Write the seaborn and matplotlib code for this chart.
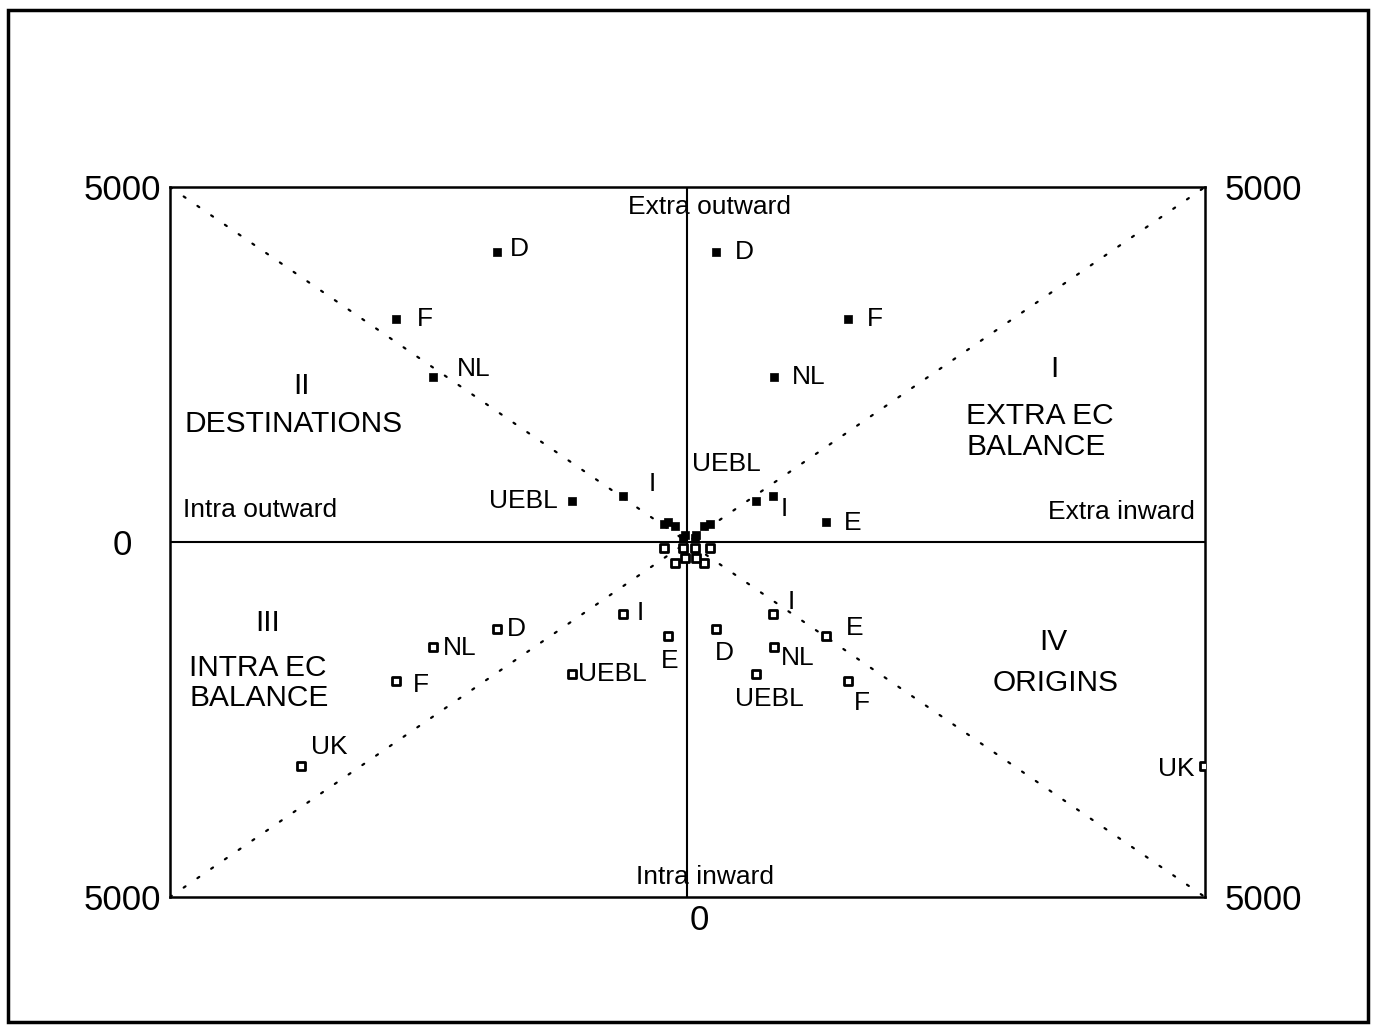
import numpy as np
import pandas as pd
import seaborn as sns
import matplotlib.pyplot as plt
from matplotlib.patches import Rectangle
from matplotlib.transforms import ScaledTranslation

# trade flows per country (same value shared by the two quadrants that use it)
countries = ["D", "F", "NL", "UEBL", "I", "E", "UK", "DK", "IRL", "GR", "P"]
intra_out = [1840, 2815, 2460, 1115, 618, 184, 3729, 222, 116, 20, 40]
extra_out = [4083, 3147, 2323, 584, 648, 282, np.nan, 260, 230, 100, 60]
extra_in = [275, 1550, 835, 667, 826, 1338, 4994, 222, 164, 80, 70]
intra_in = [1225, 1957, 1478, 1858, 1014, 1323, 3154, 84, 296, 230, 90]
labelled = ["D", "F", "NL", "UEBL", "I", "E", "UK"]

rows = []
for i, c in enumerate(countries):
    rows.append(dict(country=c, quad="UL", x=-intra_out[i], y=extra_out[i]))
    rows.append(dict(country=c, quad="UR", x=extra_in[i], y=extra_out[i]))
    rows.append(dict(country=c, quad="LL", x=-intra_out[i], y=-intra_in[i]))
    rows.append(dict(country=c, quad="LR", x=extra_in[i], y=-intra_in[i]))
df = pd.DataFrame(rows).dropna()
upper = df[df["quad"].isin(["UL", "UR"])]
lower = df[df["quad"].isin(["LL", "LR"])]

# label offsets in points: (dx, dy, ha)
offsets = {
    ("UL", "D"): (9, 2, "left"), ("UL", "F"): (15, 0, "left"),
    ("UL", "NL"): (17, 6, "left"), ("UL", "UEBL"): (-10, 0, "right"),
    ("UL", "I"): (21, 9, "center"),
    ("UR", "D"): (14, 0, "left"), ("UR", "F"): (14, 0, "left"),
    ("UR", "NL"): (13, 0, "left"), ("UR", "UEBL"): (-22, 26, "center"),
    ("UR", "I"): (8, -9, "center"), ("UR", "E"): (13, -1, "left"),
    ("LL", "D"): (7, 0, "left"), ("LL", "NL"): (7, -1, "left"),
    ("LL", "F"): (12, -3, "left"), ("LL", "UEBL"): (4, 0, "left"),
    ("LL", "I"): (12, 1, "center"), ("LL", "E"): (1, -18, "center"),
    ("LL", "UK"): (7, 14, "left"),
    ("LR", "I"): (13, 9, "center"), ("LR", "E"): (14, 6, "left"),
    ("LR", "D"): (6, -17, "center"), ("LR", "NL"): (5, -8, "left"),
    ("LR", "UEBL"): (9, -18, "center"), ("LR", "F"): (10, -16, "center"),
    ("LR", "UK"): (-7, -2, "right"),
}

sns.set_theme(style="white")
plt.rcParams["font.family"] = ["Liberation Sans", "DejaVu Sans"]
plt.rcParams["text.color"] = "black"
plt.rcParams["xtick.color"] = "black"
plt.rcParams["ytick.color"] = "black"

fig = plt.figure(figsize=(13.76, 10.30), dpi=100)
ax = fig.add_axes([0.1235, 0.1291, 0.7522, 0.6893])

lim = 5000
ax.plot([-lim, lim], [lim, -lim], color="black", lw=1.6, ls=(0, (1, 6.5)), dash_capstyle="round")
ax.plot([-lim, lim], [-lim, lim], color="black", lw=1.6, ls=(0, (1, 6.5)), dash_capstyle="round")
ax.axhline(0, color="black", lw=1.5)
ax.axvline(0, color="black", lw=1.5)

sns.scatterplot(data=upper, x="x", y="y", marker="s", color="black", s=36,
                edgecolor="black", linewidth=0.5, ax=ax, zorder=5)
sns.scatterplot(data=lower, x="x", y="y", marker="s", color="white", s=40,
                edgecolor="black", linewidth=2.0, ax=ax, zorder=5)

for _, r in df.iterrows():
    key = (r["quad"], r["country"])
    if r["country"] in labelled and key in offsets:
        dx, dy, ha = offsets[key]
        ax.annotate(r["country"], (r["x"], r["y"]), xytext=(dx, dy),
                    textcoords="offset points", ha=ha, va="center", fontsize=19)

axis_words = [("Intra outward", -4134, 450), ("Extra outward", 212, 4717),
              ("Extra inward", 4193, 422), ("Intra inward", 174, -4717)]
for t, x, y in axis_words:
    ax.text(x, y, t, ha="center", va="center", fontsize=19)

big = 21.5
ax.text(-3729, 2196, "II", ha="center", va="center", fontsize=big)
ax.text(-3806, 1661, "DESTINATIONS", ha="center", va="center", fontsize=big)
ax.text(3545, 2436, "I", ha="center", va="center", fontsize=big)
ax.text(2695, 1556, "EXTRA EC\nBALANCE", ha="left", va="center", fontsize=big, linespacing=1.1)
ax.text(-4057, -1140, "III", ha="center", va="center", fontsize=big)
ax.text(-4811, -1985, "INTRA EC\nBALANCE", ha="left", va="center", fontsize=big, linespacing=1.1)
ax.text(3535, -1408, "IV", ha="center", va="center", fontsize=big)
ax.text(3555, -1985, "ORIGINS", ha="center", va="center", fontsize=big)

ax.set_xlim(-lim, lim)
ax.set_ylim(-lim, lim)
ax.set_xlabel("")
ax.set_ylabel("")
for sp in ax.spines.values():
    sp.set_visible(True)
    sp.set_color("black")
    sp.set_linewidth(1.8)

ax.set_xticks([0], labels=["0"])
ax.set_yticks([-lim, 0, lim], labels=["5000", "0", "5000"])
ax.tick_params(axis="x", length=0, pad=5, labelsize=25)
ax.tick_params(axis="y", length=0, pad=34, labelsize=25)
for lbl in ax.get_yticklabels():
    lbl.set_horizontalalignment("center")
for lbl in ax.get_xticklabels():
    lbl.set_transform(lbl.get_transform() + ScaledTranslation(12 / 100, 0, fig.dpi_scale_trans))

sec = ax.secondary_yaxis("right")
sec.set_yticks([-lim, lim], labels=["5000", "5000"])
sec.tick_params(length=0, pad=14, labelsize=25)
sec.spines["right"].set_visible(False)

fig.patches.append(Rectangle((0.006, 0.008), 0.988, 0.982, transform=fig.transFigure,
                             fill=False, lw=2.5, ec="black"))

fig.savefig("out.png", dpi=100)
